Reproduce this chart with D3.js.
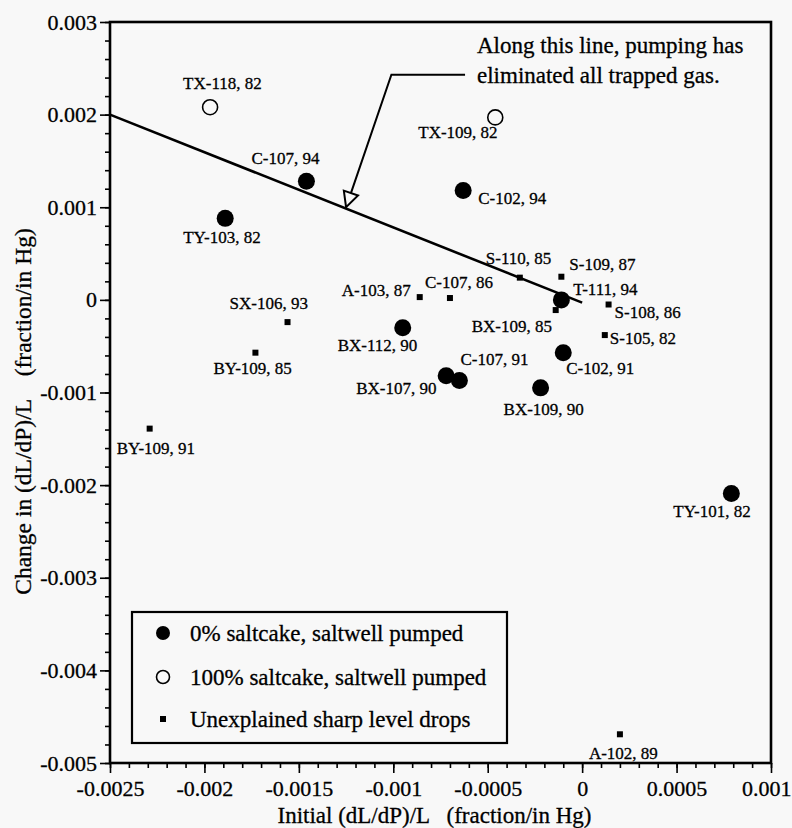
<!DOCTYPE html>
<html>
<head>
<meta charset="utf-8">
<script src="https://cdn.jsdelivr.net/npm/d3@7"></script>
<style>
  html, body { margin: 0; padding: 0; background: #f8f8f8; }
  svg { display: block; font-family: "Liberation Serif", "Times New Roman", serif; }
  text { white-space: pre; fill: #000; stroke: #000; stroke-width: 0.3px; }
</style>
</head>
<body>
<svg id="chart" width="792" height="828"></svg>
<script>
// Tank names and their measured responses
const filledNames = ["C-107, 94", "TY-103, 82", "C-102, 94", "T-111, 94", "BX-112, 90",
                     "BX-107, 90", "C-107, 91", "C-102, 91", "BX-109, 90", "TY-101, 82"];
const filledX = [-0.00146, -0.00189, -0.00063, -0.00011, -0.00095,
                 -0.00072, -0.00065, -0.00010, -0.00022, 0.00079];
const filledY = [0.00128, 0.00088, 0.00118, 0.00000, -0.00030,
                 -0.00082, -0.00087, -0.00057, -0.00095, -0.00209];

const openNames = ["TX-118, 82", "TX-109, 82"];
const openX = [-0.00197, -0.00046];
const openY = [0.00208, 0.00197];

const squareNames = ["A-103, 87", "C-107, 86", "S-110, 85", "S-109, 87", "BX-109, 85", "S-108, 86",
                     "S-105, 82", "SX-106, 93", "BY-109, 85", "BY-109, 91", "A-102, 89"];
const squareX = [-0.00086, -0.00070, -0.00033, -0.00011, -0.00014, 0.00014,
                 0.00012, -0.00156, -0.00173, -0.00229, 0.00020];
const squareY = [0.00003, 0.00002, 0.00024, 0.00025, -0.00011, -0.00005,
                 -0.00038, -0.00024, -0.00057, -0.00139, -0.00469];

// Line along which pumping has removed all trapped gas
const gasLineX = [-0.0025, 0];
const gasLineY = [0.002, -0.00003];

// Callout arrow: text end, elbow, tip (on the line)
const arrowX = [-0.00062, -0.00101, -0.00125];
const arrowY = [0.00243, 0.00243, 0.00100];

const xTickValues = [-0.0025, -0.002, -0.0015, -0.001, -0.0005, 0, 0.0005, 0.001];
const xTickLabels = ["-0.0025", "-0.002", "-0.0015", "-0.001", "-0.0005", "0", "0.0005", "0.001"];
const yTickValues = [0.003, 0.002, 0.001, 0, -0.001, -0.002, -0.003, -0.004, -0.005];
const yTickLabels = ["0.003", "0.002", "0.001", "0", "-0.001", "-0.002", "-0.003", "-0.004", "-0.005"];

const legendLabels = ["0% saltcake, saltwell pumped", "100% saltcake, saltwell pumped", "Unexplained sharp level drops"];

// Label placement relative to each marker (text start, baseline), in pixels
const labelOffset = {
  "TX-118, 82": [-27, -18], "C-107, 94": [-55, -17], "TY-103, 82": [-42, 25],
  "TX-109, 82": [-77, 21], "C-102, 94": [15, 13], "S-110, 85": [-34, -14],
  "S-109, 87": [8, -7], "T-111, 94": [12, -5], "S-108, 86": [6, 13],
  "BX-109, 85": [-84, 22], "S-105, 82": [5, 9], "C-102, 91": [3, 21],
  "C-107, 91": [1, -15], "BX-107, 90": [-90, 18], "BX-109, 90": [-37, 27],
  "BX-112, 90": [-65, 23], "A-103, 87": [-78, -1], "C-107, 86": [-25, -10],
  "SX-106, 93": [-58, -13], "BY-109, 85": [-42, 21], "BY-109, 91": [-33, 25],
  "TY-101, 82": [-58, 24], "A-102, 89": [-31, 25]
};

const svg = d3.select("#chart");
const plotL = 110, plotR = 771, plotT = 22, plotB = 763;

const x = d3.scaleLinear().domain([-0.0025, 0.001]).range([plotL, plotR]);
const y = d3.scaleLinear().domain([-0.005, 0.003]).range([plotB, plotT]);

// Minor ticks
const xMinor = d3.range(-25, 11).map(d => d * 0.0001);
const yMinor = d3.range(-25, 16).map(d => d * 0.0002);

function styleAxis(g) {
  g.select(".domain").remove();
  g.selectAll(".tick line").attr("stroke", "#000").attr("stroke-width", 1.6);
}

svg.append("g").attr("transform", `translate(0,${plotB})`)
  .call(d3.axisBottom(x).tickValues(xMinor).tickSize(5).tickFormat(""))
  .call(styleAxis);
svg.append("g").attr("transform", `translate(${plotL},0)`)
  .call(d3.axisLeft(y).tickValues(yMinor).tickSize(5).tickFormat(""))
  .call(styleAxis);

const xAxis = svg.append("g").attr("transform", `translate(0,${plotB})`)
  .call(d3.axisBottom(x).tickValues(xTickValues).tickSize(10).tickPadding(7)
    .tickFormat((d, i) => xTickLabels[i]))
  .call(styleAxis);
xAxis.selectAll("text").attr("font-size", 22).attr("fill", "#000")
  .attr("font-family", "Liberation Serif");
// the last label sits against the right edge of the page
xAxis.selectAll(".tick").filter(d => d === 0.001).select("text")
  .attr("text-anchor", "end").attr("x", 20);

const yAxis = svg.append("g").attr("transform", `translate(${plotL},0)`)
  .call(d3.axisLeft(y).tickValues(yTickValues).tickSize(10).tickPadding(3)
    .tickFormat((d, i) => yTickLabels[i]))
  .call(styleAxis);
yAxis.selectAll("text").attr("font-size", 22).attr("fill", "#000")
  .attr("font-family", "Liberation Serif");

// Plot frame
svg.append("rect")
  .attr("x", plotL).attr("y", plotT)
  .attr("width", plotR - plotL).attr("height", plotB - plotT)
  .attr("fill", "none").attr("stroke", "#000").attr("stroke-width", 2.6);

// Axis titles
svg.append("text")
  .attr("x", (plotL + plotR) / 2 - 6).attr("y", 823)
  .attr("text-anchor", "middle").attr("font-size", 23)
  .text("Initial (dL/dP)/L   (fraction/in Hg)");
svg.append("text")
  .attr("transform", `translate(31,${(plotT + plotB) / 2 + 19}) rotate(-90)`)
  .attr("text-anchor", "middle").attr("font-size", 23.5)
  .text("Change in (dL/dP)/L    (fraction/in Hg)");

// Zero-gas line
svg.append("line")
  .attr("x1", x(gasLineX[0])).attr("y1", y(gasLineY[0]))
  .attr("x2", x(gasLineX[1])).attr("y2", y(gasLineY[1]))
  .attr("stroke", "#000").attr("stroke-width", 2.6);

// Callout arrow with hollow head
const pts = arrowX.map((v, i) => [x(v), y(arrowY[i])]);
const tip = pts[2], elbow = pts[1];
const ang = Math.atan2(tip[1] - elbow[1], tip[0] - elbow[0]);
const headLen = 15, headHalf = 7.5;
const base = [tip[0] - headLen * Math.cos(ang), tip[1] - headLen * Math.sin(ang)];
svg.append("path")
  .attr("d", d3.line()([pts[0], pts[1], base]))
  .attr("fill", "none").attr("stroke", "#000").attr("stroke-width", 2);
const px = -Math.sin(ang), py = Math.cos(ang);
svg.append("path")
  .attr("d", d3.line()([
    [base[0] + px * headHalf, base[1] + py * headHalf],
    tip,
    [base[0] - px * headHalf, base[1] - py * headHalf]
  ]) + "Z")
  .attr("fill", "#f8f8f8").attr("stroke", "#000").attr("stroke-width", 2);

const note = svg.append("text").attr("font-size", 23).attr("x", 477);
note.append("tspan").attr("x", 477).attr("y", 53).text("Along this line, pumping has");
note.append("tspan").attr("x", 477).attr("y", 83).text("eliminated all trapped gas.");

// Markers
const filled = filledNames.map((n, i) => ({ name: n, x: filledX[i], y: filledY[i] }));
const open = openNames.map((n, i) => ({ name: n, x: openX[i], y: openY[i] }));
const squares = squareNames.map((n, i) => ({ name: n, x: squareX[i], y: squareY[i] }));

svg.append("g").selectAll("rect").data(squares).join("rect")
  .attr("x", d => x(d.x) - 3).attr("y", d => y(d.y) - 3)
  .attr("width", 6).attr("height", 6).attr("fill", "#000");

svg.append("g").selectAll("circle").data(open).join("circle")
  .attr("cx", d => x(d.x)).attr("cy", d => y(d.y)).attr("r", 7.5)
  .attr("fill", "none").attr("stroke", "#000").attr("stroke-width", 1.6);

svg.append("g").selectAll("circle").data(filled).join("circle")
  .attr("cx", d => x(d.x)).attr("cy", d => y(d.y)).attr("r", 8.5)
  .attr("fill", "#000");

// Point labels
svg.append("g").selectAll("text").data([...filled, ...open, ...squares]).join("text")
  .attr("x", d => x(d.x) + labelOffset[d.name][0])
  .attr("y", d => y(d.y) + labelOffset[d.name][1])
  .attr("font-size", 17)
  .text(d => d.name);

// Legend
const lg = svg.append("g");
lg.append("rect").attr("x", 132).attr("y", 612).attr("width", 375).attr("height", 131)
  .attr("fill", "#f8f8f8").attr("stroke", "#000").attr("stroke-width", 2.2);
const rowY = [633, 677, 719];
lg.append("circle").attr("cx", 163).attr("cy", rowY[0]).attr("r", 7).attr("fill", "#000");
lg.append("circle").attr("cx", 163).attr("cy", rowY[1]).attr("r", 6.5)
  .attr("fill", "none").attr("stroke", "#000").attr("stroke-width", 1.6);
lg.append("rect").attr("x", 160).attr("y", rowY[2] - 3).attr("width", 6).attr("height", 6).attr("fill", "#000");
legendLabels.forEach((t, i) => {
  lg.append("text").attr("x", 190).attr("y", rowY[i] + 8)
    .attr("font-size", 23).text(t);
});
</script>
</body>
</html>
